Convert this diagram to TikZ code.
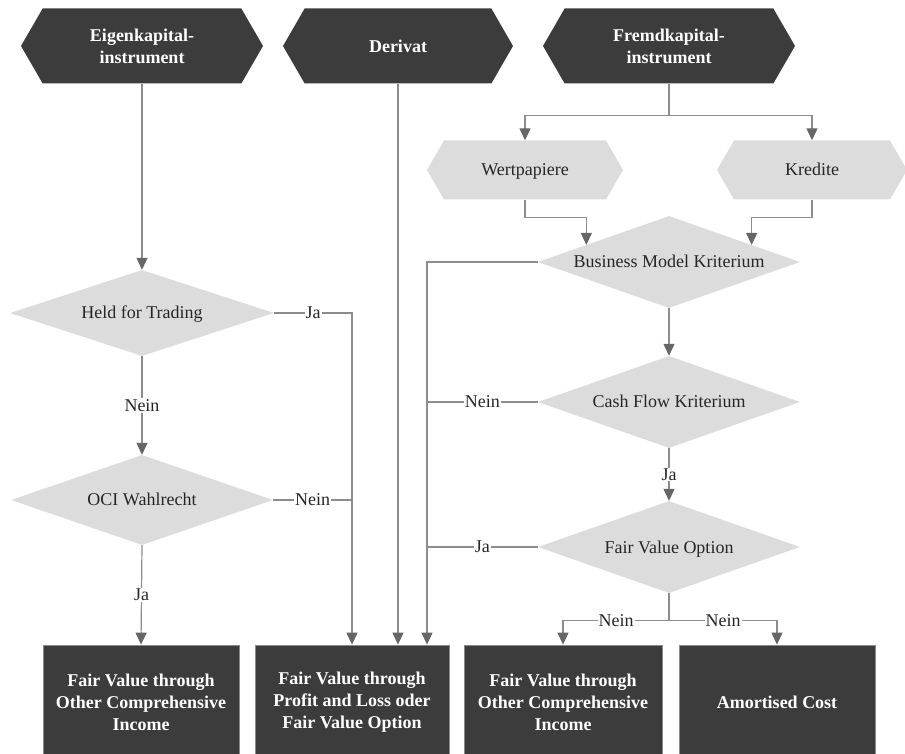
\documentclass[tikz,border=0pt]{standalone}
\usepackage{fontspec}
\setmainfont{Liberation Serif}
\usetikzlibrary{shapes.geometric, shapes.symbols, arrows.meta, calc}
\definecolor{darkbox}{HTML}{3C3C3C}
\definecolor{lightbox}{HTML}{DCDCDC}
\definecolor{linegray}{HTML}{8C8C8C}
\definecolor{tipgray}{HTML}{666666}
\definecolor{txtgray}{HTML}{262626}
\begin{document}
\begin{tikzpicture}[x=1pt, y=1pt, font=\fontsize{18}{22}\selectfont,
		hexdark/.style = {signal, signal to=west and east, signal pointer angle=120, fill=darkbox, text=white, font=\fontsize{18}{22}\selectfont\bfseries, align=center, minimum height=75pt, inner sep=0pt},
		hexlight/.style = {signal, signal to=west and east, signal pointer angle=120, fill=lightbox, text=txtgray, minimum height=59pt, inner sep=0pt, text height=16pt, text depth=4pt},
		decision/.style = {diamond, fill=lightbox, text=txtgray, aspect=2.85, inner sep=0pt, minimum width=262pt, minimum height=92pt, text height=16pt, text depth=4pt},
		result/.style = {rectangle, fill=darkbox, draw=darkbox!60!white, line width=0.8pt, text=white, font=\fontsize{18}{22}\selectfont\bfseries, align=center, minimum height=115pt},
		conn/.style = {draw=linegray, line width=1.2pt},
		arr/.style = {conn, -{Triangle[width=11pt, length=12pt, color=tipgray]}},
		lab/.style = {fill=white, text=txtgray, inner sep=1pt}]
	\useasboundingbox (0,0) rectangle (905,753);
	% headers
	\node[hexdark, minimum width=242pt] (eigen) at (142,707) {Eigenkapital-\\instrument};
	\node[hexdark, minimum width=230pt] (derivat) at (398,707) {Derivat};
	\node[hexdark, minimum width=252pt] (fremd) at (669,707) {Fremdkapital-\\instrument};
	% left column
	\node[decision, minimum width=264pt, minimum height=86pt] (hft) at (142,440) {Held for Trading};
	\node[decision, minimum width=262pt, minimum height=90pt] (oci) at (142,253) {OCI Wahlrecht};
	% right column
	\node[hexlight, minimum width=196pt] (wert) at (525,583) {Wertpapiere};
	\node[hexlight, minimum width=190pt] (kredite) at (812,583) {Kredite};
	\node[decision] (bmk) at (669,491) {Business Model Kriterium};
	\node[decision] (cfk) at (669,351) {Cash Flow Kriterium};
	\node[decision] (fvo) at (669,206) {Fair Value Option};
	% results
	\node[result, minimum width=196pt] (ocione) at (141,50.5) {Fair Value through\\Other Comprehensive\\Income};
	\node[result, minimum width=194pt] (fvp) at (352,50.5) {Fair Value through\\Profit and Loss oder\\Fair Value Option};
	\node[result, minimum width=198pt] (ocitwo) at (563,50.5) {Fair Value through\\Other Comprehensive\\Income};
	\node[result, minimum width=196pt] (amort) at (777,50.5) {Amortised Cost};
	% helper points
	\coordinate (fsplit) at ($(fremd.south)+(0,-32)$);
	\coordinate (wertin) at ($(bmk.west)!0.37!(bmk.north)$);
	\coordinate (kredin) at ($(bmk.east)!0.37!(bmk.north)$);
	\coordinate (bmkdrop) at ($(fvp.north)+(75,0)$);
	\coordinate (fvosplit) at ($(fvo.south)+(0,-27)$);
	% left connectors
	\draw[arr] (eigen.south) -- (hft.north);
	\draw[arr] (hft.south) -- (oci.north) node[lab, midway] {Nein};
	\draw[arr] (oci.south) -- (ocione.north) node[lab, midway] {Ja};
	\draw[arr] (hft.east) -| (fvp.north) node[lab, pos=0.25] {Ja};
	\draw[conn] (oci.east) -- (oci.east -| fvp.north) node[lab, midway] {Nein};
	\draw[arr] (derivat.south) -- (derivat.south |- fvp.north);
	% right connectors
	\draw[conn] (fremd.south) -- (fsplit);
	\draw[arr] (fsplit) -| (wert.north);
	\draw[arr] (fsplit) -| (kredite.north);
	\draw[arr] (wert.south) -- ++(0,-18) -| (wertin);
	\draw[arr] (kredite.south) -- ++(0,-18) -| (kredin);
	\draw[arr] (bmk.west) -| (bmkdrop);
	\draw[arr] (bmk.south) -- (cfk.north);
	\draw[conn] (cfk.west) -- (cfk.west -| bmkdrop) node[lab, midway] {Nein};
	\draw[arr] (cfk.south) -- (fvo.north) node[lab, midway] {Ja};
	\draw[conn] (fvo.west) -- (fvo.west -| bmkdrop) node[lab, midway] {Ja};
	\draw[conn] (fvo.south) -- (fvosplit);
	\draw[arr] (fvosplit) -| (ocitwo.north) node[lab, pos=0.25] {Nein};
	\draw[arr] (fvosplit) -| (amort.north) node[lab, pos=0.25] {Nein};
\end{tikzpicture}
\end{document}
